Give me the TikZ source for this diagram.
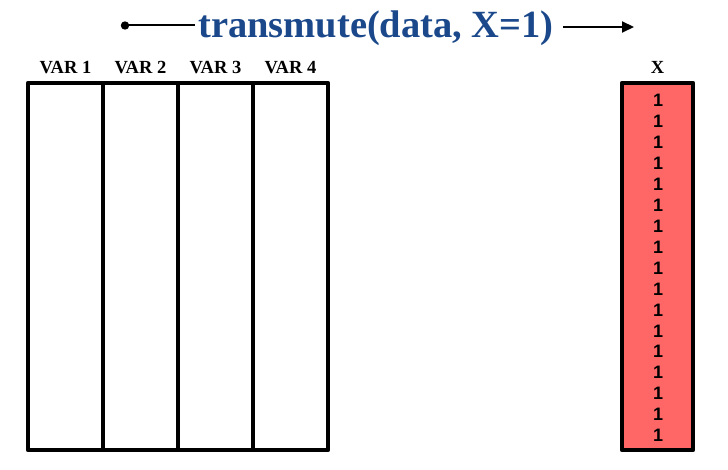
\documentclass[tikz,border=0pt]{standalone}
\usepackage{fontspec}
\setmainfont{Liberation Serif}
\newfontfamily\onesfont{Liberation Sans}
\usetikzlibrary{arrows.meta}
\definecolor{titleblue}{RGB}{26,72,138}
\definecolor{cellred}{RGB}{255,102,102}
\tikzset{
  colbox/.style={draw=black, line width=4.6pt, line join=round, minimum width=75pt, minimum height=367pt, inner sep=0pt, outer sep=0pt, anchor=north west},
  varlabel/.style={font=\fontsize{18.5}{20}\selectfont\bfseries, inner sep=0pt, anchor=base},
  onelabel/.style={font=\onesfont\fontsize{18}{18}\selectfont\bfseries, text=black, inner sep=0pt},
  thinline/.style={line width=2pt}
}
\begin{document}
\begin{tikzpicture}[x=1pt,y=-1pt]
\useasboundingbox (0,0) rectangle (728,470);
% title
\node[font=\fontsize{38.5}{40}\selectfont\bfseries, text=titleblue, inner sep=0pt, anchor=base] (title) at (376,38) {transmute(data, X=1)};
\coordinate (dotpt) at (125,25.5);
\coordinate (lineend) at (195,25.5);
\coordinate (arrstart) at (563,27);
\coordinate (arrend) at (634,27);
\fill (dotpt) circle (4.2pt);
\draw[thinline] (dotpt) -- (lineend);
\draw[thinline, -{Triangle[length=12pt,width=11pt]}] (arrstart) -- (arrend);
% columns
\node[colbox] (c1) at (28,83) {};
\node[colbox] (c2) at (103,83) {};
\node[colbox] (c3) at (178,83) {};
\node[colbox] (c4) at (253,83) {};
\node[varlabel] (l1) at (65.5,74) {VAR 1};
\node[varlabel] (l2) at (140.5,74) {VAR 2};
\node[varlabel] (l3) at (215.5,74) {VAR 3};
\node[varlabel] (l4) at (290.5,74) {VAR 4};
% result column
\node[colbox, fill=cellred, minimum width=71pt] (cx) at (622,83) {};
\node[varlabel] (lx) at (657.5,74) {X};
\foreach \i in {0,...,16} {
  \node[onelabel] (one\i) at (658,{100.5+20.94*\i}) {1};
}
\end{tikzpicture}
\end{document}
